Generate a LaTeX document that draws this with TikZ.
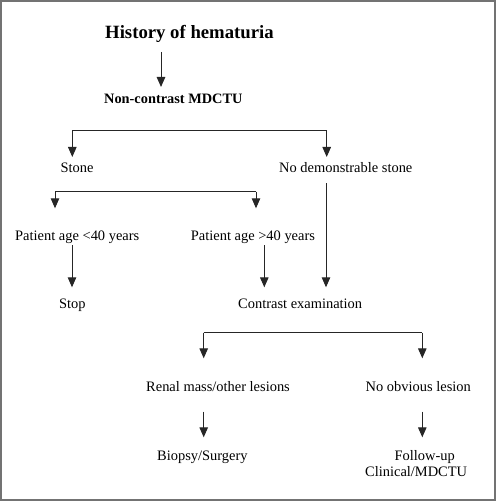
\documentclass[tikz,border=0pt]{standalone}
\usepackage{fontspec}
\setmainfont{Liberation Serif}
\usetikzlibrary{arrows.meta}
\begin{document}
\begin{tikzpicture}[x=1bp,y=-1bp,
  txt/.style={anchor=base west,inner sep=0pt,font=\fontsize{14.5}{17}\selectfont},
  boldtxt/.style={anchor=base west,inner sep=0pt,font=\fontsize{14.4}{17}\selectfont\bfseries},
  ttl/.style={anchor=base west,inner sep=0pt,font=\fontsize{18.8}{22}\selectfont\bfseries},
  arr/.style={draw=black!85,line width=1bp,-{Triangle[width=8.5bp,length=10bp]}},
  ln/.style={draw=black!85,line width=1bp}]
\useasboundingbox (0,0) rectangle (496,501);
\draw[draw=black!55,line width=2bp] (1,1) rectangle (495,500);

% nodes
\node[ttl] (hist) at (105,38.3) {History of hematuria};
\node[boldtxt] (nc) at (104,103.5) {Non-contrast MDCTU};
\node[txt] (stone) at (60.5,172.7) {Stone};
\node[txt] (nostone) at (279,172.7) {No demonstrable stone};
\node[txt] (lt40) at (15,240.3) {Patient age <40 years};
\node[txt] (gt40) at (190.7,240.3) {Patient age >40 years};
\node[txt] (stop) at (59,308.5) {Stop};
\node[txt] (contrast) at (238,308.5) {Contrast examination};
\node[txt] (renal) at (146,391.7) {Renal mass/other lesions};
\node[txt] (nolesion) at (365.5,391.7) {No obvious lesion};
\node[txt] (biopsy) at (157,460) {Biopsy/Surgery};
\node[txt] (fu1) at (394.5,460.5) {Follow-up};
\node[txt] (fu2) at (365,476.5) {Clinical/MDCTU};

% connector end points
\coordinate (histOut) at (161,52);
\coordinate (ncIn) at (161,87);
\coordinate (b1l) at (72.3,131);
\coordinate (b1r) at (326.7,131);
\coordinate (stoneIn) at (72.3,157);
\coordinate (nostoneIn) at (326.7,157);
\coordinate (b2l) at (55,191.7);
\coordinate (b2r) at (256,191.7);
\coordinate (lt40In) at (55,208.3);
\coordinate (gt40In) at (256,208.3);
\coordinate (lt40Out) at (72,245);
\coordinate (stopIn) at (72,287.3);
\coordinate (gt40Out) at (264.3,245);
\coordinate (contrastInA) at (264.3,287.3);
\coordinate (nostoneOut) at (326,183.3);
\coordinate (contrastInB) at (326,287.3);
\coordinate (b3l) at (203.7,332.7);
\coordinate (b3r) at (422.3,332.7);
\coordinate (renalIn) at (203.7,358.3);
\coordinate (nolesionIn) at (422.3,358.3);
\coordinate (renalOut) at (203.7,411.7);
\coordinate (biopsyIn) at (203.7,437.3);
\coordinate (nolesionOut) at (422.3,411.7);
\coordinate (fuIn) at (422.3,437.3);

% connectors
\draw[arr] (histOut) -- (ncIn);
\draw[ln] (b1l) -- (b1r);
\draw[arr] (b1l) -- (stoneIn);
\draw[arr] (b1r) -- (nostoneIn);
\draw[ln] (b2l) -- (b2r);
\draw[arr] (b2l) -- (lt40In);
\draw[arr] (b2r) -- (gt40In);
\draw[arr] (lt40Out) -- (stopIn);
\draw[arr] (gt40Out) -- (contrastInA);
\draw[arr] (nostoneOut) -- (contrastInB);
\draw[ln] (b3l) -- (b3r);
\draw[arr] (b3l) -- (renalIn);
\draw[arr] (b3r) -- (nolesionIn);
\draw[arr] (renalOut) -- (biopsyIn);
\draw[arr] (nolesionOut) -- (fuIn);
\end{tikzpicture}
\end{document}
